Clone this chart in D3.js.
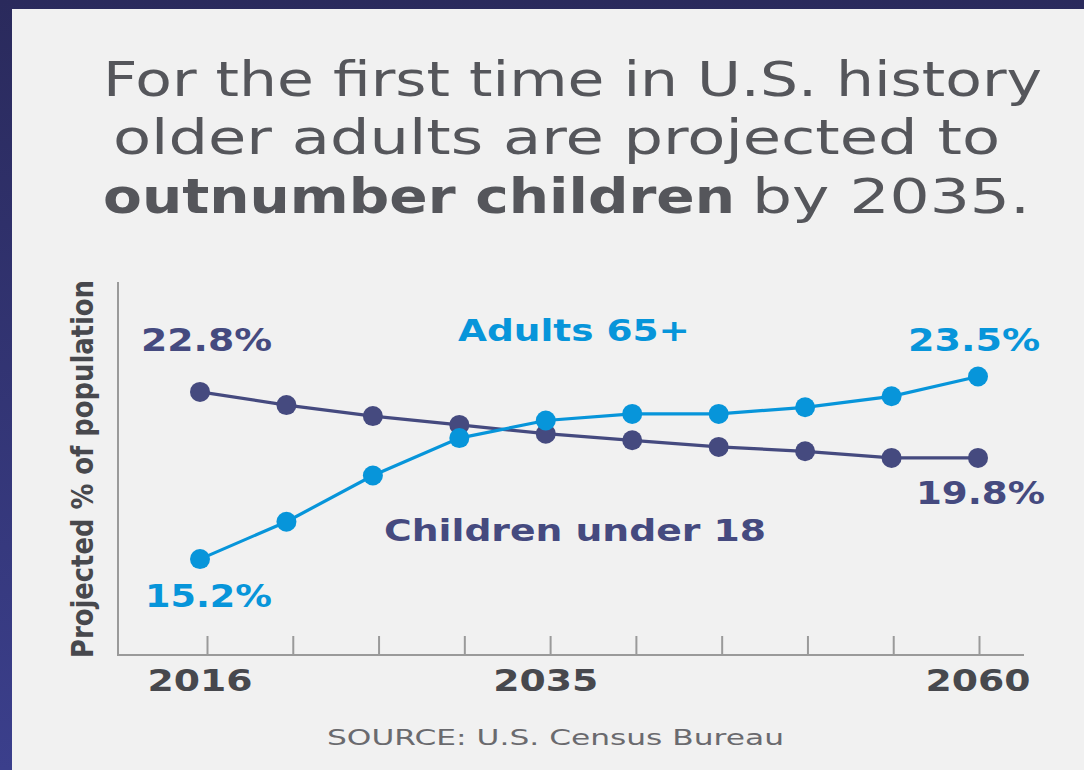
<!DOCTYPE html>
<html>
<head>
<meta charset="utf-8">
<script src="https://cdn.jsdelivr.net/npm/d3@7"></script>
<style>
  html, body { margin: 0; padding: 0; }
  body { width: 1084px; height: 770px; overflow: hidden; }
  svg { display: block; }
</style>
</head>
<body>
<svg id="chart" width="1084" height="770"></svg>
<script>
// Projection years (drawn evenly spaced)
const years = ["2016", "2020", "2025", "2030", "2035", "2040", "2045", "2050", "2055", "2060"];
// Projected share of the U.S. population, percent
const children = [22.8, 22.2, 21.7, 21.3, 20.9, 20.6, 20.3, 20.1, 19.8, 19.8];
const adults = [15.2, 16.9, 19.0, 20.7, 21.5, 21.8, 21.8, 22.1, 22.6, 23.5];
// Years that get a label under the axis
const tickLabels = ["2016", "2035", "2060"];

const childColor = "#454a7f";
const adultColor = "#0795da";
const font = "'DejaVu Sans', Verdana, sans-serif";

const svg = d3.select("#chart");

// Background frame
const defs = svg.append("defs");
const grad = defs.append("linearGradient").attr("id", "frame")
  .attr("x1", 0).attr("y1", 0).attr("x2", 0).attr("y2", 1);
grad.append("stop").attr("offset", 0).attr("stop-color", "#2a2a5c");
grad.append("stop").attr("offset", 1).attr("stop-color", "#3b3f8c");
svg.append("rect").attr("width", 1084).attr("height", 770).attr("fill", "url(#frame)");

// Light panel
svg.append("rect").attr("x", 12).attr("y", 9).attr("width", 1084).attr("height", 770)
  .attr("fill", "#f1f1f1");

// Text helper: left-anchored, stretched to a fixed run length
function fitText(parent, txt, px, py, len, size, weight, color) {
  return parent.append("text")
    .attr("x", px).attr("y", py)
    .attr("font-family", font)
    .attr("font-size", size)
    .attr("font-weight", weight)
    .attr("fill", color)
    .attr("textLength", len)
    .attr("lengthAdjust", "spacingAndGlyphs")
    .text(txt);
}

// Title
const titleColor = "#55565b";
fitText(svg, "For the first time in U.S. history", 103, 96, 939, 48, 400, titleColor);
fitText(svg, "older adults are projected to", 113, 154, 887, 48, 400, titleColor);
fitText(svg, "outnumber children", 103, 213, 632, 48, 700, titleColor);
fitText(svg, "by 2035.", 752, 213, 278, 48, 400, titleColor);

// Scales
const x = d3.scalePoint().domain(years).range([200, 978]);
const xTicks = x.copy().range([207, 979]);
const y = d3.scaleLinear().domain([14, 24]).range([585.5, 365.5]);

// Axes
const axisColor = "#9a9a9a";
svg.append("line").attr("x1", 118).attr("x2", 118).attr("y1", 282).attr("y2", 656)
  .attr("stroke", axisColor).attr("stroke-width", 2);

const gx = svg.append("g").attr("transform", "translate(0,655)")
  .call(d3.axisBottom(xTicks).tickSize(-19).tickFormat(""));
gx.select(".domain").remove();
gx.append("line").attr("x1", 117).attr("x2", 1024).attr("y1", 0).attr("y2", 0)
  .attr("stroke", axisColor).attr("stroke-width", 2);
gx.selectAll(".tick line").attr("stroke", axisColor).attr("stroke-width", 2);

// Year labels under the axis
svg.append("g").selectAll("text").data(tickLabels).join("text")
  .attr("x", d => x(d))
  .attr("y", 691)
  .attr("text-anchor", "middle")
  .attr("font-family", font)
  .attr("font-weight", 700)
  .attr("font-size", 31)
  .attr("fill", "#47484d")
  .attr("textLength", 105)
  .attr("lengthAdjust", "spacingAndGlyphs")
  .text(d => d);

// Y axis title
svg.append("text")
  .attr("transform", "translate(93,658) rotate(-90)")
  .attr("font-family", font)
  .attr("font-weight", 700)
  .attr("font-size", 30)
  .attr("fill", "#47484d")
  .attr("textLength", 378)
  .attr("lengthAdjust", "spacingAndGlyphs")
  .text("Projected % of population");

// Series
const line = d3.line().x((d, i) => x(years[i])).y(d => y(d));
const series = [
  { name: "Children under 18", values: children, color: childColor },
  { name: "Adults 65+", values: adults, color: adultColor }
];
series.forEach(s => {
  const g = svg.append("g");
  g.append("path").datum(s.values).attr("d", line)
    .attr("fill", "none").attr("stroke", s.color).attr("stroke-width", 3.2);
  g.selectAll("circle").data(s.values).join("circle")
    .attr("cx", (d, i) => x(years[i])).attr("cy", d => y(d)).attr("r", 10)
    .attr("fill", s.color);
});

// Value and series labels
const n = years.length - 1;
const pct = v => v.toFixed(1) + "%";
fitText(svg, pct(children[0]), 141, y(children[0]) - 41, 131, 32, 700, childColor);
fitText(svg, pct(children[n]), 916, y(children[n]) + 46, 129, 32, 700, childColor);
fitText(svg, pct(adults[0]), 145, y(adults[0]) + 48, 127, 32, 700, adultColor);
fitText(svg, pct(adults[n]), 908, y(adults[n]) - 26, 132, 32, 700, adultColor);
fitText(svg, "Adults 65+", 458, 341, 232, 31, 700, adultColor);
fitText(svg, "Children under 18", 384, 541, 382, 31, 700, childColor);

// Source
fitText(svg, "SOURCE: U.S. Census Bureau", 327, 745, 457, 22, 400, "#6a6a6e");
</script>
</body>
</html>
